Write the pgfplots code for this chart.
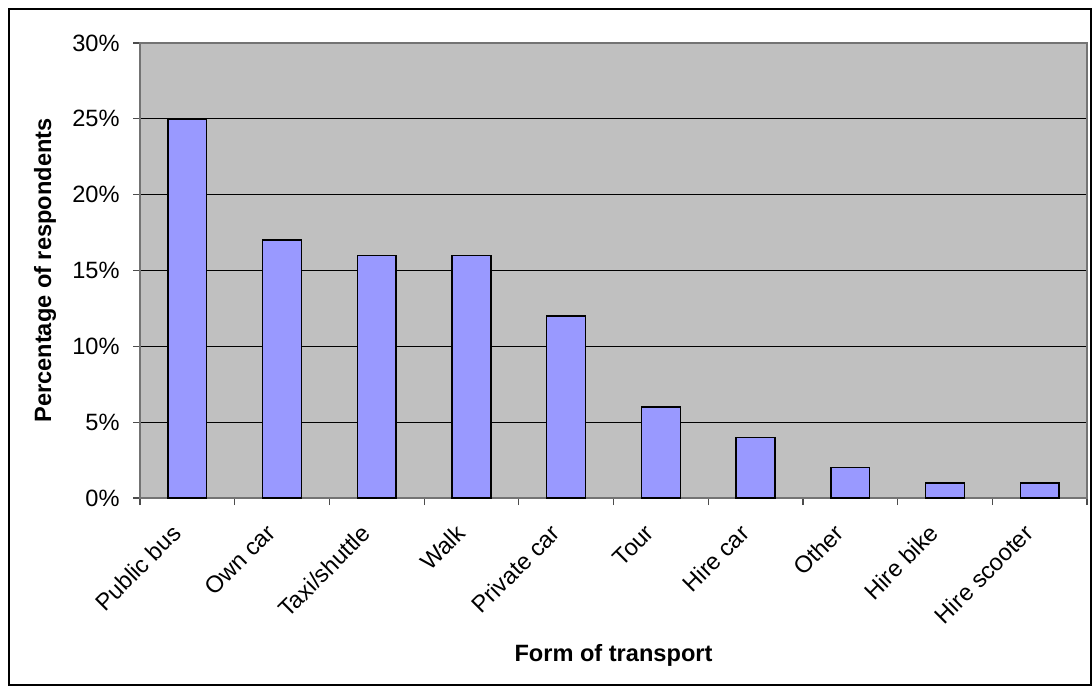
\documentclass[border=0pt]{standalone}
\usepackage{fontspec}
\setmainfont{Liberation Sans}
\usepackage{pgfplots}
\pgfplotsset{compat=1.18}

\definecolor{barblue}{HTML}{9999FF}
\definecolor{plotgray}{HTML}{C0C0C0}

\begin{document}
\begin{tikzpicture}
\path[use as bounding box] (0,0) rectangle (546pt,-343pt);
\draw[black, line width=1pt] (4.5pt,-4.5pt) rectangle (545.5pt,-342.5pt);
\begin{axis}[
    at={(70pt,-21.5pt)},
    anchor=north west,
    scale only axis,
    width=473.5pt,
    height=227.5pt,
    xmin=-0.5, xmax=9.5,
    ymin=0, ymax=30,
    axis background/.style={fill=plotgray},
    axis line style={draw=black!55, line width=0.8pt},
    ymajorgrids,
    grid style={black, line width=0.5pt},
    xtick={0,...,9},
    xticklabels={Public bus, Own car, Taxi/shuttle, Walk, Private car, Tour, Hire car, Other, Hire bike, Hire scooter},
    major x tick style={draw=none},
    minor xtick={-0.5,0.5,...,9.5},
    minor x tick style={black!70, line width=0.6pt},
    minor tick length=3.5pt,
    ytick={0,5,...,30},
    yticklabels={0\%,5\%,10\%,15\%,20\%,25\%,30\%},
    y tick style={black!70, line width=0.6pt},
    major tick length=3.5pt,
    tick align=outside,
    tick pos=left,
    ticklabel style={font=\fontsize{11.8}{14}\selectfont},
    xticklabel style={rotate=45, anchor=north east, inner sep=2pt, xshift=-10.2pt, yshift=1.8pt},
    yticklabel style={inner sep=0pt, xshift=-6.5pt},
    xlabel={Form of transport},
    ylabel={Percentage of respondents},
    label style={font=\fontsize{11.8}{14}\selectfont\bfseries},
    xlabel style={at={(axis description cs:0.5,-0.345)}, anchor=center},
    ylabel style={at={(axis description cs:-0.1003,0.5)}, anchor=center},
]
\addplot[ybar, bar width=19.4pt, fill=barblue, draw=black, line width=0.7pt] coordinates {
    (0,25) (1,17) (2,16) (3,16) (4,12) (5,6) (6,4) (7,2) (8,1) (9,1)
};
\end{axis}
\end{tikzpicture}
\end{document}
